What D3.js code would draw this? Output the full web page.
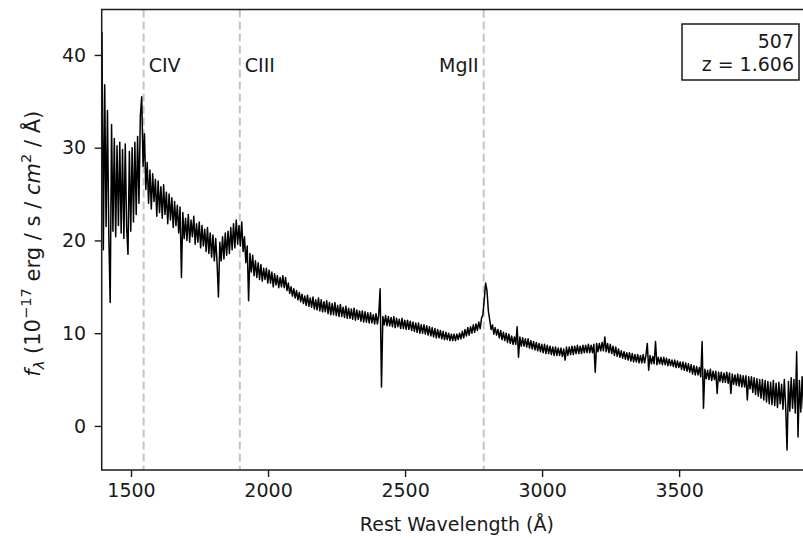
<!DOCTYPE html>
<html>
<head>
<meta charset="utf-8">
<script src="https://cdn.jsdelivr.net/npm/d3@7"></script>
<style>
  html, body { margin: 0; padding: 0; background: #fff; }
  svg { display: block; font-family: "DejaVu Sans", sans-serif; }
</style>
</head>
<body>
<svg id="chart" width="803" height="538"></svg>
<script>
// Rest-frame quasar spectrum, object 507 at z = 1.606

// Rest wavelength samples (Å)
const wavelength = [
  1394,1399,1404,1409,1414,1419,1424,1429,1434,1439,1444,1449,1454,1459,1464,1469,1474,1479,1484,1489,
  1494,1499,1504,1509,1514,1519,1524,1529,1534,1539,1544,1549,1554,1559,1564,1569,1574,1579,1584,1589,
  1594,1599,1604,1609,1614,1619,1624,1629,1634,1639,1644,1649,1654,1659,1664,1669,1674,1679,1684,1689,
  1694,1699,1704,1709,1714,1719,1724,1729,1734,1739,1744,1749,1754,1759,1764,1769,1774,1779,1784,1789,
  1794,1799,1804,1809,1814,1819,1824,1829,1834,1839,1844,1849,1854,1859,1864,1869,1874,1879,1884,1889,
  1894,1899,1904,1909,1914,1919,1924,1929,1934,1939,1944,1949,1954,1959,1964,1969,1974,1979,1984,1989,
  1994,1999,2004,2009,2014,2019,2024,2029,2034,2039,2044,2049,2054,2059,2064,2069,2074,2079,2084,2089,
  2094,2099,2104,2109,2114,2119,2124,2129,2134,2139,2144,2149,2154,2159,2164,2169,2174,2179,2184,2189,
  2194,2199,2204,2209,2214,2219,2224,2229,2234,2239,2244,2249,2254,2259,2264,2269,2274,2279,2284,2289,
  2294,2299,2304,2309,2314,2319,2324,2329,2334,2339,2344,2349,2354,2359,2364,2369,2374,2379,2384,2389,
  2394,2399,2404,2409,2414,2419,2424,2429,2434,2439,2444,2449,2454,2459,2464,2469,2474,2479,2484,2489,
  2494,2499,2504,2509,2514,2519,2524,2529,2534,2539,2544,2549,2554,2559,2564,2569,2574,2579,2584,2589,
  2594,2599,2604,2609,2614,2619,2624,2629,2634,2639,2644,2649,2654,2659,2664,2669,2674,2679,2684,2689,
  2694,2699,2704,2709,2714,2719,2724,2729,2734,2739,2744,2749,2754,2759,2764,2769,2774,2779,2784,2789,
  2794,2799,2804,2809,2814,2819,2824,2829,2834,2839,2844,2849,2854,2859,2864,2869,2874,2879,2884,2889,
  2894,2899,2904,2909,2914,2919,2924,2929,2934,2939,2944,2949,2954,2959,2964,2969,2974,2979,2984,2989,
  2994,2999,3004,3009,3014,3019,3024,3029,3034,3039,3044,3049,3054,3059,3064,3069,3074,3079,3084,3089,
  3094,3099,3104,3109,3114,3119,3124,3129,3134,3139,3144,3149,3154,3159,3164,3169,3174,3179,3184,3189,
  3194,3199,3204,3209,3214,3219,3224,3229,3234,3239,3244,3249,3254,3259,3264,3269,3274,3279,3284,3289,
  3294,3299,3304,3309,3314,3319,3324,3329,3334,3339,3344,3349,3354,3359,3364,3369,3374,3379,3384,3389,
  3394,3399,3404,3409,3414,3419,3424,3429,3434,3439,3444,3449,3454,3459,3464,3469,3474,3479,3484,3489,
  3494,3499,3504,3509,3514,3519,3524,3529,3534,3539,3544,3549,3554,3559,3564,3569,3574,3579,3584,3589,
  3594,3599,3604,3609,3614,3619,3624,3629,3634,3639,3644,3649,3654,3659,3664,3669,3674,3679,3684,3689,
  3694,3699,3704,3709,3714,3719,3724,3729,3734,3739,3744,3749,3754,3759,3764,3769,3774,3779,3784,3789,
  3794,3799,3804,3809,3814,3819,3824,3829,3834,3839,3844,3849,3854,3859,3864,3869,3874,3879,3884,3889,
  3894,3899,3904,3909,3914,3919,3924,3929,3934,3939,3944,3949,3954,3959,3964,3969,3974,3979,3984,3989
];

// Flux density f_lambda (1e-17 erg / s / cm^2 / Å)
const flux = [
  42.5,19.0,36.8,21.5,34.0,20.5,13.3,32.5,21.0,31.0,20.4,30.2,21.6,30.6,20.8,29.8,20.2,30.4,21.4,18.5,
  29.6,21.0,30.0,22.0,30.6,22.8,31.2,24.0,33.4,35.5,28.0,31.5,25.5,28.4,24.0,27.6,23.4,27.2,24.2,26.6,
  22.6,26.4,23.0,25.8,22.4,26.0,22.8,25.2,21.8,25.0,22.2,24.6,21.4,24.2,21.6,23.8,20.8,23.6,16.0,23.0,
  20.2,22.4,20.0,22.8,19.8,22.2,20.4,22.6,19.6,21.8,19.8,22.0,19.2,21.6,19.4,21.2,18.8,21.4,18.6,20.8,
  18.2,20.6,17.8,20.2,17.6,13.9,19.8,17.8,20.4,18.0,20.8,18.4,21.0,18.6,21.4,19.0,21.8,19.2,22.2,19.6,
  21.6,19.4,22.0,18.8,20.4,17.6,19.4,13.5,18.6,16.6,18.4,16.2,17.8,16.0,17.6,15.8,17.4,15.6,17.0,15.8,
  17.0,15.4,16.8,15.4,16.6,15.0,16.4,15.2,16.2,14.9,16.0,15.0,16.2,14.9,16.0,14.6,15.4,14.3,15.0,14.0,
  14.8,13.8,14.6,13.6,14.4,13.4,14.2,13.2,14.0,13.0,14.1,12.9,13.8,12.8,13.9,12.6,13.6,12.5,13.8,12.4,
  13.6,12.3,13.4,12.3,13.5,12.1,13.3,12.0,13.2,12.0,13.3,11.9,13.0,11.8,13.1,11.8,12.8,11.7,12.9,11.6,
  12.7,11.6,12.6,11.5,12.7,11.4,12.5,11.5,12.4,11.3,12.4,11.2,12.3,11.2,12.2,11.1,12.2,11.1,12.0,11.0,
  12.1,11.0,12.0,14.8,4.2,11.8,10.9,11.9,10.8,11.8,10.8,11.7,10.7,11.8,10.6,11.6,10.7,11.5,10.5,11.6,
  10.5,11.4,10.4,11.4,10.4,11.3,10.3,11.2,10.2,11.1,10.1,11.1,10.0,10.9,10.0,10.9,9.9,10.8,9.8,10.7,
  9.7,10.6,9.6,10.5,9.5,10.4,9.5,10.3,9.4,10.2,9.3,10.1,9.3,10.0,9.2,9.9,9.2,9.9,9.2,9.9,
  9.3,10.0,9.4,10.2,9.5,10.4,9.7,10.6,9.8,10.7,10.0,10.9,10.1,11.0,10.3,11.2,10.5,11.6,12.0,13.6,
  15.4,14.6,12.4,11.4,10.4,10.9,9.9,10.6,9.8,10.4,9.5,10.3,9.3,10.1,9.2,10.0,9.0,9.9,8.9,9.7,
  8.8,9.6,8.8,10.7,7.4,9.6,8.6,9.5,8.6,9.4,8.5,9.4,8.4,9.2,8.3,9.1,8.2,9.0,8.1,8.9,
  8.0,8.8,7.9,8.8,7.8,8.7,7.8,8.6,7.7,8.5,7.6,8.5,7.6,8.4,7.6,8.4,7.5,8.3,7.1,8.5,
  7.6,8.5,7.7,8.6,7.7,8.6,7.8,8.7,7.8,8.6,7.8,8.7,7.9,8.7,7.9,8.8,7.9,8.7,7.9,8.8,
  5.8,8.9,8.0,8.9,8.1,9.0,8.1,9.6,8.0,8.9,7.9,8.8,7.8,8.6,7.6,8.5,7.5,8.3,7.4,8.1,
  7.3,8.0,7.2,7.9,7.1,7.9,7.0,7.8,6.9,7.7,6.9,7.7,6.8,7.6,6.8,7.7,6.8,7.6,8.9,6.0,
  7.6,6.7,7.5,6.7,9.1,6.6,7.4,6.7,7.4,6.6,7.4,6.6,7.3,6.5,7.2,6.5,7.1,6.4,7.1,6.3,
  7.0,6.3,6.9,6.1,6.9,6.0,6.8,5.9,6.7,5.8,6.6,5.6,6.5,5.5,6.4,5.5,6.3,5.3,9.1,1.9,
  6.1,5.1,6.0,5.0,6.1,4.9,5.9,5.0,5.9,3.5,5.8,4.8,5.8,4.7,5.7,4.7,5.8,4.6,5.7,3.5,
  5.6,4.5,5.5,4.4,5.6,4.3,5.5,4.2,5.4,4.2,5.4,2.8,5.3,4.0,5.3,3.6,5.2,3.4,5.1,3.2,
  5.0,3.0,5.0,2.8,4.9,2.6,4.8,2.4,4.7,2.3,4.9,2.2,4.6,2.0,4.7,2.4,4.5,1.8,5.0,2.0,
  -2.6,4.8,1.6,5.2,1.9,5.0,1.4,8.0,-1.2,4.9,1.5,5.3,1.9,4.6,2.4,5.0,1.7,4.8,2.2,4.4
];

// Emission lines marked on the spectrum
const lineNames = ["CIV", "CIII", "MgII"];
const lineWaves = [1546, 1897, 2787];
const lineAnchor = ["start", "start", "end"];

// Axis ticks
const xTicks = [1500, 2000, 2500, 3000, 3500];
const yTicks = [0, 10, 20, 30, 40];

// Annotation box
const boxLines = ["507", "z = 1.606"];

const svg = d3.select("#chart");
const plot = { left: 101.7, right: 812, top: 9.5, bottom: 470 };
const ink = "#1a1a1a";
const fontSize = 19;

const x = d3.scaleLinear().domain([1393, 3985]).range([plot.left, plot.right]);
const y = d3.scaleLinear().domain([-4.75, 44.9]).range([plot.bottom, plot.top]);

svg.append("defs").append("clipPath").attr("id", "plot-clip")
  .append("rect")
  .attr("x", plot.left).attr("y", plot.top)
  .attr("width", plot.right - plot.left).attr("height", plot.bottom - plot.top);

// Emission-line markers
svg.append("g").selectAll("line")
  .data(lineWaves)
  .join("line")
  .attr("x1", d => x(d)).attr("x2", d => x(d))
  .attr("y1", plot.top).attr("y2", plot.bottom)
  .attr("stroke", "#c4c4c4")
  .attr("stroke-width", 2)
  .attr("stroke-dasharray", "8,4");

// Spectrum
const points = wavelength.map((w, i) => ({ w, f: flux[i] }));
svg.append("path")
  .datum(points)
  .attr("clip-path", "url(#plot-clip)")
  .attr("fill", "none")
  .attr("stroke", "#000")
  .attr("stroke-width", 1.5)
  .attr("stroke-linejoin", "round")
  .attr("d", d3.line().x(d => x(d.w)).y(d => y(d.f)));

// Line labels
svg.append("g").selectAll("text")
  .data(lineNames)
  .join("text")
  .attr("x", (d, i) => x(lineWaves[i]) + (lineAnchor[i] === "start" ? 5 : -5))
  .attr("y", 72)
  .attr("text-anchor", (d, i) => lineAnchor[i])
  .attr("font-size", fontSize)
  .attr("fill", ink)
  .text(d => d);

// Axes
const xAxis = svg.append("g")
  .attr("transform", `translate(0,${plot.bottom})`)
  .call(d3.axisBottom(x).tickValues(xTicks).tickFormat(d3.format("d")).tickSize(7).tickPadding(7));
const yAxis = svg.append("g")
  .attr("transform", `translate(${plot.left},0)`)
  .call(d3.axisLeft(y).tickValues(yTicks).tickFormat(d3.format("d")).tickSize(7).tickPadding(8.5));
[xAxis, yAxis].forEach(g => {
  g.select(".domain").remove();
  g.selectAll(".tick line").attr("stroke", ink).attr("stroke-width", 1.4);
  g.selectAll(".tick text").attr("fill", ink).attr("font-size", fontSize)
    .attr("font-family", "DejaVu Sans, sans-serif");
});

// Frame
svg.append("rect")
  .attr("x", plot.left).attr("y", plot.top)
  .attr("width", plot.right - plot.left).attr("height", plot.bottom - plot.top)
  .attr("fill", "none").attr("stroke", ink).attr("stroke-width", 1.5);

// Axis titles
svg.append("text")
  .attr("x", (plot.left + plot.right) / 2)
  .attr("y", 531)
  .attr("text-anchor", "middle")
  .attr("font-size", fontSize)
  .attr("fill", ink)
  .text("Rest Wavelength (Å)");

const ylSize = 21;
const yl = svg.append("text")
  .attr("transform", `translate(40,${(plot.top + plot.bottom) / 2 + 4}) rotate(-90)`)
  .attr("text-anchor", "middle")
  .attr("font-size", ylSize)
  .attr("fill", ink);
yl.append("tspan").attr("font-style", "italic").text("f");
yl.append("tspan").attr("font-style", "italic").attr("font-size", ylSize * 0.7).attr("dy", 4).text("λ");
yl.append("tspan").attr("dy", -4).text(" (10");
yl.append("tspan").attr("font-size", ylSize * 0.7).attr("dy", -9).text("−17");
yl.append("tspan").attr("dy", 9).text(" erg / s / ");
yl.append("tspan").attr("font-style", "italic").text("cm");
yl.append("tspan").attr("font-size", ylSize * 0.7).attr("dy", -9).text("2");
yl.append("tspan").attr("dy", 9).text(" / Å)");

// Annotation box, upper right
const box = svg.append("g");
box.append("rect")
  .attr("x", 682).attr("y", 24).attr("width", 117).attr("height", 56)
  .attr("fill", "#fff").attr("stroke", ink).attr("stroke-width", 1.5);
box.selectAll("text")
  .data(boxLines)
  .join("text")
  .attr("x", 794)
  .attr("y", (d, i) => 48 + i * 23)
  .attr("text-anchor", "end")
  .attr("font-size", fontSize)
  .attr("fill", ink)
  .text(d => d);
</script>
</body>
</html>
